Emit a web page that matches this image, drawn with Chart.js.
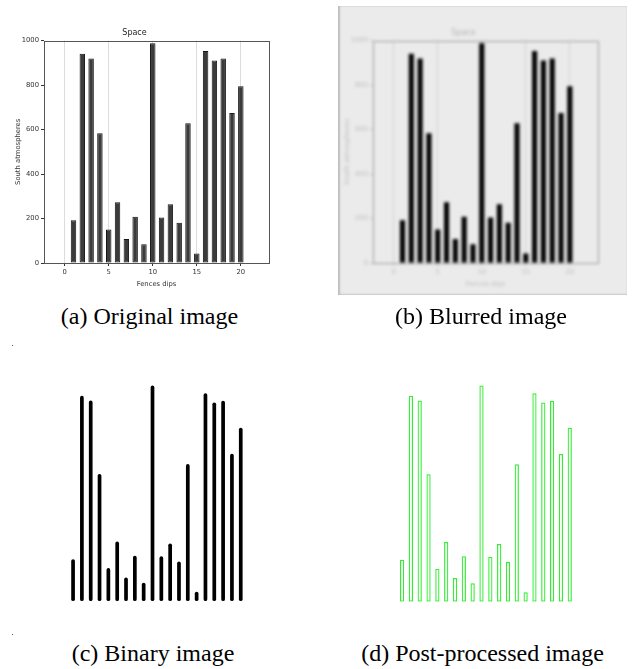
<!DOCTYPE html>
<html>
<head>
<meta charset="utf-8">
<script src="https://cdn.jsdelivr.net/npm/chart.js@4.4.0/dist/chart.umd.min.js"></script>
<style>
  body { margin: 0; width: 633px; height: 669px; background: #fff; position: relative; overflow: hidden; }
  canvas, .cap, .dot, #blurbox { position: absolute; }
  .cap { font-family: "Liberation Serif", "Times New Roman", serif; font-size: 24px; line-height: 24px; width: 300px; text-align: center; color: #000; white-space: nowrap; }
  #blurbox { left: 338px; top: 6px; width: 289px; height: 289px; background: #ebebeb; box-shadow: inset 2px 0 2px #bdbdbd, inset 0 -1px 2px #d0d0d0; }
  #chartB { filter: blur(1.5px); }
  .dot { width: 1px; height: 1px; background: #555; }
</style>
</head>
<body>
<div id="blurbox"></div>
<canvas id="chartA" width="290" height="300" style="left:0;top:0"></canvas>
<canvas id="chartB" width="290" height="300" style="left:329px;top:0"></canvas>
<canvas id="chartC" width="290" height="290" style="left:0;top:340px"></canvas>
<canvas id="chartD" width="290" height="290" style="left:329px;top:340px"></canvas>

<div class="cap" style="left:-0.5px;top:304px">(a) Original image</div>
<div class="cap" style="left:331px;top:304px">(b) Blurred image</div>
<div class="cap" style="left:3px;top:641px">(c) Binary image</div>
<div class="cap" style="left:332.5px;top:641px">(d) Post-processed image</div>
<div class="dot" style="left:12px;top:345px"></div>
<div class="dot" style="left:12px;top:634px"></div>

<script>
// values
const fences = [1, 2, 3, 4, 5, 6, 7, 8, 9, 10, 11, 12, 13, 14, 15, 16, 17, 18, 19, 20];
const south = [192, 941, 920, 583, 151, 273, 108, 208, 84, 988, 205, 264, 181, 628, 43, 953, 911, 919, 675, 795];
const xTicks = [0, 5, 10, 15, 20];
const yTicks = [0, 200, 400, 600, 800, 1000];

const X_MIN = -2.35, X_MAX = 23.2;

const points = fences.map((f, i) => ({ x: f, y: south[i] }));

// box round the plot area (matplotlib spines)
const framePlugin = {
  id: "frame",
  afterDraw(chart, args, opts) {
    if (!opts.color) return;
    const { ctx, chartArea: a } = chart;
    ctx.save();
    ctx.strokeStyle = opts.color;
    ctx.lineWidth = 1;
    ctx.strokeRect(Math.round(a.left) + 0.5, Math.round(a.top) + 0.5,
      Math.round(a.right - a.left), Math.round(a.bottom - a.top));
    ctx.restore();
  },
};

function axisChart(id, o) {
  const font = { family: "DejaVu Sans", size: 6.8 };
  return new Chart(document.getElementById(id), {
    type: "bar",
    data: {
      datasets: [{
        data: points,
        backgroundColor: o.bar,
        borderColor: o.edge,
        borderWidth: o.edgeWidth,
        borderSkipped: false,
        barPercentage: o.barPct,
        categoryPercentage: 1,
      }],
    },
    options: {
      responsive: false,
      animation: false,
      layout: { padding: { left: 0, right: 21, top: 0, bottom: 0 } },
      plugins: {
        legend: { display: false },
        tooltip: { enabled: false },
        title: {
          display: true, text: "Space", color: o.title,
          font: { family: "DejaVu Sans", size: 8, weight: "normal" },
          padding: { top: 28, bottom: 3 },
        },
        frame: { color: o.frame },
      },
      scales: {
        x: {
          type: "linear", min: X_MIN, max: X_MAX, offset: false,
          afterBuildTicks: (s) => { s.ticks = xTicks.map((v) => ({ value: v })); },
          afterFit: (s) => { s.height = 37; },
          grid: { offset: false, color: o.grid, tickColor: o.text, tickLength: 3 },
          border: { display: false },
          ticks: { font: font, color: o.text, padding: 2, maxRotation: 0, callback: (v) => String(v) },
          title: { display: true, text: "Fences dips", font: font, color: o.text, padding: { top: 0, bottom: 12 } },
        },
        y: {
          min: 0, max: 1000,
          afterBuildTicks: (s) => { s.ticks = yTicks.map((v) => ({ value: v })); },
          afterFit: (s) => { s.width = 44; },
          grid: { drawOnChartArea: false, tickColor: o.text, tickLength: 3 },
          border: { display: false },
          ticks: { font: font, color: o.text, padding: 2, callback: (v) => String(v) },
          title: { display: true, text: "South atmospheres", font: font, color: o.text, padding: { top: 14.5, bottom: 0 } },
        },
      },
    },
    plugins: [framePlugin],
  });
}

function plainChart(id, o) {
  return new Chart(document.getElementById(id), {
    type: "bar",
    data: {
      datasets: [{
        data: points,
        backgroundColor: o.bar,
        borderColor: o.edge,
        borderWidth: o.edgeWidth,
        borderSkipped: false,
        borderRadius: o.radius,
        barPercentage: o.barPct,
        categoryPercentage: 1,
      }],
    },
    options: {
      responsive: false,
      animation: false,
      layout: { padding: { left: 43.5, right: 21, top: 43, bottom: o.bottom } },
      plugins: { legend: { display: false }, tooltip: { enabled: false } },
      scales: {
        x: { type: "linear", display: false, min: X_MIN, max: X_MAX, offset: false },
        y: { display: false, min: 0, max: 1000 },
      },
    },
  });
}

// (a) original
axisChart("chartA", {
  bar: "#3b3b3b", edge: "#161616", edgeWidth: 1, barPct: 0.62,
  grid: "#dcdcdc", text: "#333", title: "#222", frame: "#555",
});

// (b) blurred
axisChart("chartB", {
  bar: "#000", edge: "#000", edgeWidth: 0, barPct: 0.58,
  grid: "#d2d2d2", text: "#c0c0c0", title: "#b5b5b5", frame: "#9a9a9a",
});

// (c) binary
plainChart("chartC", { bar: "#000", edge: "#000", edgeWidth: 0, radius: 2, barPct: 0.42, bottom: 29 });

// (d) post-processed
plainChart("chartD", { bar: "rgba(0,0,0,0)", edge: "#33ee33", edgeWidth: 1.2, radius: 0, barPct: 0.48, bottom: 28.3 });
</script>
</body>
</html>
